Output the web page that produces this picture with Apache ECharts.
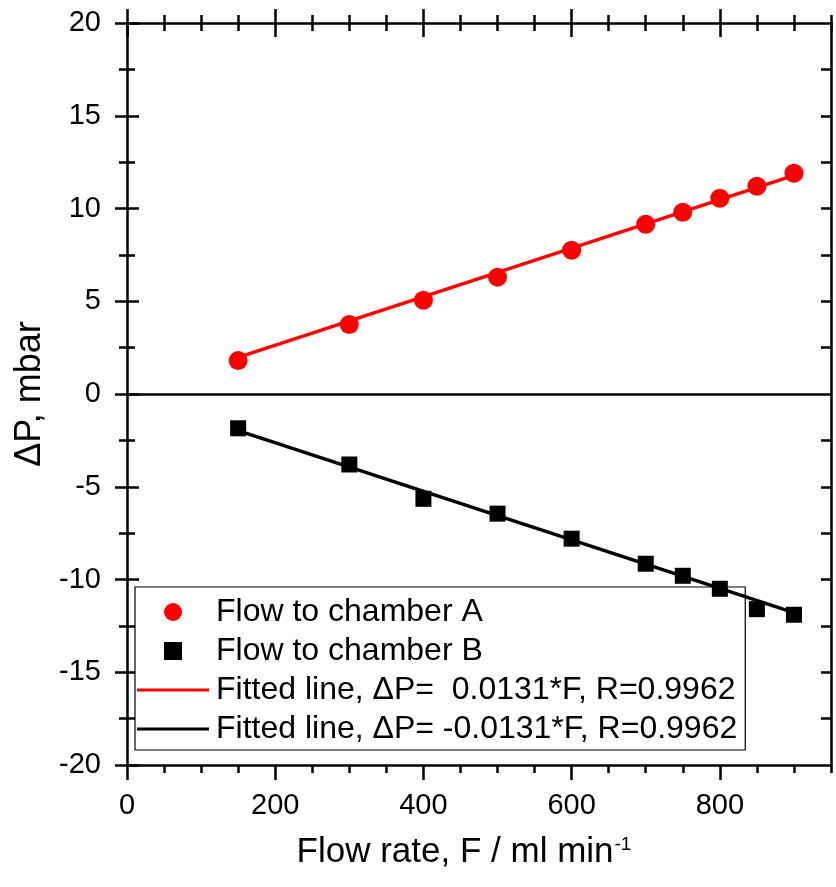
<!DOCTYPE html>
<html>
<head>
<meta charset="utf-8">
<script src="https://cdn.jsdelivr.net/npm/echarts@6/dist/echarts.min.js"></script>
<style>
html,body{margin:0;padding:0;background:#fff;}
#c{width:836px;height:887px;}
</style>
</head>
<body>
<div id="c"></div>
<script>
// ---- data ----
var flowA = [150, 300, 400, 500, 600, 700, 750, 800, 850, 900];
var dpA   = [1.8, 3.75, 5.05, 6.3, 7.75, 9.15, 9.8, 10.55, 11.2, 11.9];
var flowB = [150, 300, 400, 500, 600, 700, 750, 800, 850, 900];
var dpB   = [-1.85, -3.8, -5.65, -6.45, -7.8, -9.15, -9.8, -10.5, -11.6, -11.9];
var fitX  = [150, 900];
var fitA  = [1.97, 11.79];
var fitB  = [-1.97, -11.79];
var xMajor = [0, 200, 400, 600, 800];
var xMinor = [50, 100, 150, 250, 300, 350, 450, 500, 550, 650, 700, 750, 850, 900, 950];
var yMajor = [-20, -15, -10, -5, 0, 5, 10, 15, 20];
var yMinor = [-17.5, -12.5, -7.5, -2.5, 2.5, 7.5, 12.5, 17.5];
var yRight = [-17.5, -15, -12.5, -10, -7.5, -5, -2.5, 2.5, 5, 7.5, 10, 12.5, 15, 17.5];
var names = ['Flow to chamber A', 'Flow to chamber B',
             'Fitted line, \u0394P=  0.0131*F, R=0.9962',
             'Fitted line, \u0394P= -0.0131*F, R=0.9962'];

function zip(a, b) { return a.map(function (v, i) { return [v, b[i]]; }); }

var FONT = '"Liberation Sans", Arial, Helvetica, sans-serif';
var AX = '#000';

function xa(pos, ticks, len, inside, labels, line, extra) {
  var o = {
    type: 'value', position: pos, min: 0, max: 950,
    axisLine: { show: line, onZero: false, lineStyle: { color: AX, width: 2.5 } },
    axisTick: { show: true, inside: inside, length: len, customValues: ticks, lineStyle: { color: AX, width: 2.5 } },
    axisLabel: { show: labels, customValues: labels ? xMajor : undefined, color: '#000', fontSize: 29, fontFamily: FONT, margin: 26 },
    splitLine: { show: false }
  };
  if (extra) for (var k in extra) o[k] = extra[k];
  return o;
}
function ya(pos, ticks, len, inside, labels, line, extra) {
  var o = {
    type: 'value', position: pos, min: -20, max: 20,
    axisLine: { show: line, onZero: false, lineStyle: { color: AX, width: 2.5 } },
    axisTick: { show: true, inside: inside, length: len, customValues: ticks, lineStyle: { color: AX, width: 2.5 } },
    axisLabel: { show: labels, customValues: labels ? yMajor : undefined, color: '#000', fontSize: 29, fontFamily: FONT, margin: 26 },
    splitLine: { show: false }
  };
  if (extra) for (var k in extra) o[k] = extra[k];
  return o;
}

var SQUARE = 'path://M0,0L10,0L10,10L0,10Z';
var BAR = 'path://M0,0L100,0L100,4.5L0,4.5Z';

var chart = echarts.init(document.getElementById('c'), null, { renderer: 'canvas' });
chart.setOption({
  animation: false,
  backgroundColor: '#fff',
  grid: { left: 127, right: 5, top: 23, bottom: 122, containLabel: false },
  xAxis: [
    xa('bottom', xMajor, 15, false, true, true, {
      name: 'Flow rate, F / ml min{sup|-1}', nameLocation: 'middle', nameGap: 70,
      nameTextStyle: { color: '#000', fontSize: 35, fontFamily: FONT, padding: [0, 30, 0, 0],
        rich: { sup: { fontSize: 19, fontFamily: FONT, color: '#000', verticalAlign: 'top', padding: [0, 0, 16, 1] } } }
    }),
    xa('bottom', xMinor, 8, false, false, false),
    xa('top', xMajor, 14, true, false, true),
    xa('top', xMajor, 14, false, false, false),
    xa('top', xMinor, 8, true, false, false),
    xa('top', xMinor, 8, false, false, false)
  ],
  yAxis: [
    ya('left', yMajor, 12, false, true, true, {
      name: '\u0394P, mbar', nameLocation: 'middle', nameGap: 77, nameRotate: 90,
      nameTextStyle: { color: '#000', fontSize: 36, fontFamily: FONT }
    }),
    ya('left', yMajor, 12, true, false, false),
    ya('left', yMinor, 8, false, false, false),
    ya('left', yMinor, 8, true, false, false),
    ya('right', yRight, 10, true, false, true)
  ],
  legend: {
    orient: 'vertical', left: 135, top: 587,
    data: [
      { name: names[0], icon: 'circle' },
      { name: names[1], icon: SQUARE },
      { name: names[2], icon: BAR },
      { name: names[3], icon: BAR }
    ],
    symbolKeepAspect: true,
    backgroundColor: '#fff', borderColor: '#000', borderWidth: 1.2, borderRadius: 0,
    padding: [9, 8, 5, 2],
    itemWidth: 72, itemHeight: 18, itemGap: 7,
    textStyle: { color: '#000', fontSize: 32, fontFamily: FONT, lineHeight: 30, padding: [0, 0, 0, 2] },
    inactiveColor: '#000', selectedMode: false
  },
  series: [
    { name: names[0], type: 'scatter', symbol: 'circle', symbolSize: 19,
      itemStyle: { color: '#ff0000', opacity: 1 }, data: zip(flowA, dpA), z: 5 },
    { name: names[1], type: 'scatter', symbol: 'rect', symbolSize: 16,
      itemStyle: { color: '#000', opacity: 1 }, data: zip(flowB, dpB), z: 5 },
    { name: names[2], type: 'line', symbol: 'none', showSymbol: false,
      lineStyle: { color: '#ff0000', width: 3.5 }, itemStyle: { color: '#ff0000' },
      data: zip(fitX, fitA), z: 4,
      markLine: { silent: true, symbol: 'none', label: { show: false },
        lineStyle: { color: '#000', width: 2.5, type: 'solid' }, data: [{ yAxis: 0 }] } },
    { name: names[3], type: 'line', symbol: 'none', showSymbol: false,
      lineStyle: { color: '#000', width: 3.5 }, itemStyle: { color: '#000' },
      data: zip(fitX, fitB), z: 4 }
  ]
});
</script>
</body>
</html>
